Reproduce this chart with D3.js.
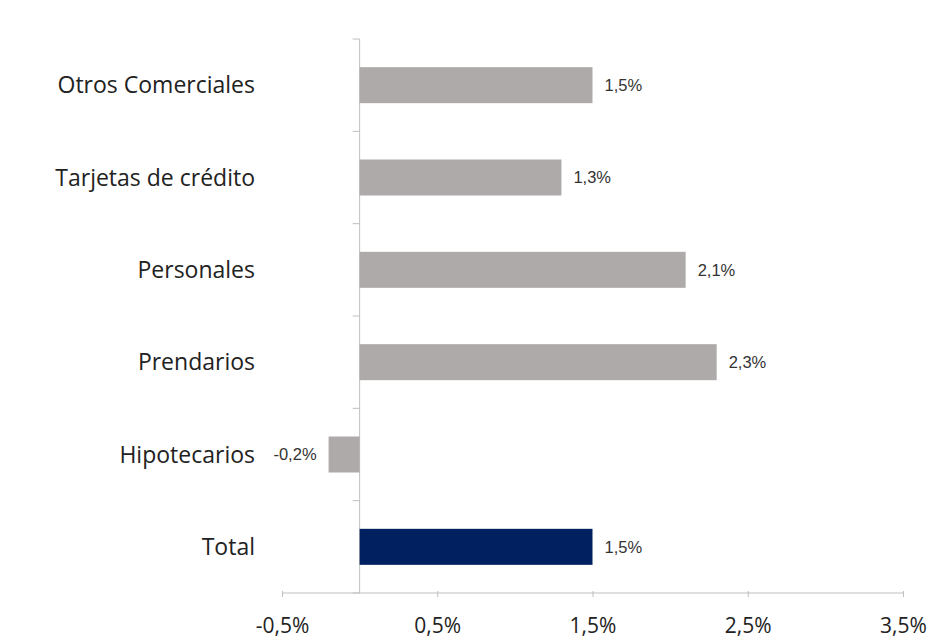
<!DOCTYPE html>
<html>
<head>
<meta charset="utf-8">
<script src="https://cdn.jsdelivr.net/npm/d3@7"></script>
<style>
  html, body { margin: 0; padding: 0; background: #fff; }
  svg { display: block; }
</style>
</head>
<body>
<svg id="chart" width="941" height="638"></svg>
<script>
// Variación por tipo de préstamo (%)
const categories = ["Otros Comerciales", "Tarjetas de crédito", "Personales", "Prendarios", "Hipotecarios", "Total"];
const values = [1.5, 1.3, 2.1, 2.3, -0.2, 1.5];
const tickValues = [-0.5, 0.5, 1.5, 2.5, 3.5];

const svg = d3.select("#chart");
const margin = { left: 282, right: 38, top: 39, bottom: 45 };
const W = 941, H = 638;

const x = d3.scaleLinear()
  .domain([-0.5, 3.5])
  .range([margin.left, W - margin.right]);

const y = d3.scaleBand()
  .domain(categories)
  .range([margin.top, H - margin.bottom])
  .paddingInner(0.61)
  .paddingOuter(0.305);

// Spanish-style percentage: comma decimal, plain hyphen for negatives
const fmt = v => (v < 0 ? "-" : "") + Math.abs(v).toFixed(1).replace(".", ",") + "%";
const axisColor = "#bfbfbf";

// Horizontal value axis
const xAxis = svg.append("g")
  .attr("transform", `translate(0,${H - margin.bottom})`)
  .call(d3.axisBottom(x).tickValues(tickValues).tickSize(5).tickFormat(fmt));
xAxis.select(".domain").attr("stroke", axisColor).attr("d", `M${margin.left},0H${W - margin.right}`);
xAxis.selectAll(".tick line").attr("stroke", axisColor).attr("y1", -2).attr("y2", 4);
xAxis.selectAll(".tick text")
  .attr("y", 0).attr("dy", null)
  .attr("transform", "translate(0,40)")
  .attr("fill", "#222")
  .style("font-family", "'Open Sans', sans-serif")
  .style("font-size", "21px");

// Category axis at zero, with tick marks between bands
const zeroX = x(0);
const yTop = margin.top, yBot = H - margin.bottom;
svg.append("line")
  .attr("x1", zeroX).attr("x2", zeroX)
  .attr("y1", yTop).attr("y2", yBot)
  .attr("stroke", axisColor);
const bounds = d3.range(categories.length + 1).map(i => yTop + i * (yBot - yTop) / categories.length);
svg.append("g").selectAll("line").data(bounds).join("line")
  .attr("x1", zeroX - 7).attr("x2", zeroX)
  .attr("y1", d => d).attr("y2", d => d)
  .attr("stroke", axisColor);

// Bars
svg.append("g").selectAll("rect").data(categories).join("rect")
  .attr("x", (d, i) => x(Math.min(0, values[i])))
  .attr("y", d => y(d))
  .attr("width", (d, i) => Math.abs(x(values[i]) - x(0)))
  .attr("height", y.bandwidth())
  .attr("fill", d => d === "Total" ? "#002060" : "#aeaaaa");

// Value labels
svg.append("g").selectAll("text").data(categories).join("text")
  .attr("x", (d, i) => values[i] >= 0 ? x(values[i]) + 12 : x(values[i]) - 12)
  .attr("y", d => y(d) + y.bandwidth() / 2)
  .attr("dy", "0.35em")
  .attr("text-anchor", (d, i) => values[i] >= 0 ? "start" : "end")
  .attr("fill", "#333")
  .style("font-family", "'Liberation Sans', Arial, sans-serif")
  .style("font-size", "16.5px")
  .text((d, i) => fmt(values[i]));

// Category labels
svg.append("g").selectAll("text").data(categories).join("text")
  .attr("x", 255)
  .attr("y", d => y(d) + y.bandwidth() / 2)
  .attr("dy", "0.35em")
  .attr("text-anchor", "end")
  .attr("fill", "#222")
  .style("font-family", "'Open Sans', sans-serif")
  .style("font-size", "23px")
  .text(d => d);
</script>
</body>
</html>
